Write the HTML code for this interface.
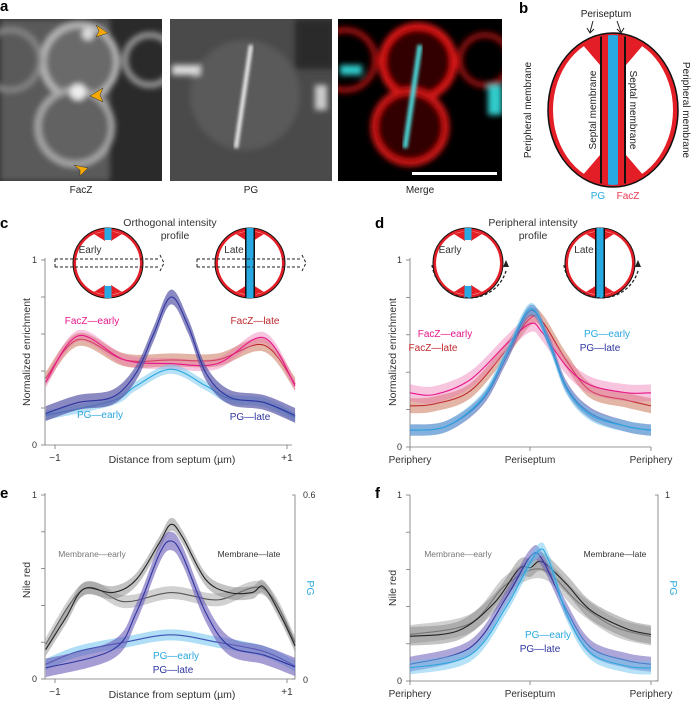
<!DOCTYPE html>
<html><head><meta charset="utf-8"><style>
html,body{margin:0;padding:0;background:#fff;width:691px;height:703px;overflow:hidden}
svg{display:block;font-family:"Liberation Sans",sans-serif}
</style></head><body>
<svg id="fig" width="691" height="703" viewBox="0 0 691 703">
<defs>
<filter id="bl" x="-20%" y="-20%" width="140%" height="140%"><feGaussianBlur stdDeviation="3"/></filter>
<filter id="bl2" x="-20%" y="-20%" width="140%" height="140%"><feGaussianBlur stdDeviation="1.6"/></filter>
<clipPath id="c1"><rect x="0" y="19" width="162" height="162"/></clipPath>
<clipPath id="c2"><rect x="170" y="19" width="162" height="162"/></clipPath>
<clipPath id="c3"><rect x="338" y="19" width="164" height="162"/></clipPath>
<clipPath id="ell"><ellipse cx="613" cy="110" rx="62" ry="75"/></clipPath>
</defs>
<g>
<text x="0" y="11" font-size="15" font-weight="bold">a</text>
<g clip-path="url(#c1)">
<rect x="0" y="19" width="162" height="162" fill="#2a2a2a"/>
<g filter="url(#bl)">
<rect x="0" y="19" width="110" height="162" fill="#5a5a5a"/>
<circle cx="80" cy="62" r="37" fill="#6a6a6a" stroke="#bbb" stroke-width="6"/>
<circle cx="75" cy="127" r="37" fill="#626262" stroke="#aaa" stroke-width="6"/>
<circle cx="150" cy="60" r="25" fill="none" stroke="#999" stroke-width="6"/>
<circle cx="10" cy="60" r="30" fill="none" stroke="#888" stroke-width="5"/>
<circle cx="78" cy="92" r="8" fill="#eee"/>
<circle cx="88" cy="34" r="6" fill="#ddd"/>
</g>
<path d="M96 25 L108 33 L96 37 L99 31Z" fill="#f5a800" stroke="#333" stroke-width="0.5"/>
<path d="M103 88 L90 96 L103 102 L100 95Z" fill="#f5a800" stroke="#333" stroke-width="0.5"/>
<path d="M74 165 L88 168 L80 176 L80 170Z" fill="#f5a800" stroke="#333" stroke-width="0.5"/>
</g>
<g clip-path="url(#c2)">
<rect x="170" y="19" width="162" height="162" fill="#4a4a4a"/>
<g filter="url(#bl)">
<circle cx="245" cy="95" r="55" fill="#5a5a5a"/>
<rect x="295" y="19" width="40" height="50" fill="#2a2a2a"/>
<rect x="172" y="65" width="28" height="10" fill="#ddd"/>
<rect x="315" y="85" width="12" height="25" fill="#ccc"/>
</g>
<g filter="url(#bl2)"><path d="M251 45 L236 148" stroke="#f4f4f4" stroke-width="4"/></g>
</g>
<g clip-path="url(#c3)">
<rect x="338" y="19" width="164" height="162" fill="#000"/>
<g filter="url(#bl)">
<circle cx="418" cy="62" r="36" fill="#300" stroke="#e01818" stroke-width="7"/>
<circle cx="410" cy="127" r="36" fill="#300" stroke="#d01515" stroke-width="7"/>
<circle cx="345" cy="60" r="30" fill="none" stroke="#a01010" stroke-width="6"/>
<circle cx="485" cy="60" r="25" fill="none" stroke="#901010" stroke-width="6"/>
<rect x="340" y="65" width="22" height="10" fill="#3cc"/>
<rect x="488" y="85" width="14" height="30" fill="#3cc"/>
</g>
<g filter="url(#bl2)"><path d="M420 45 L405 148" stroke="#4dd8d8" stroke-width="5"/></g>
<rect x="412" y="172" width="85" height="3" fill="#fff"/>
</g>
<g font-size="10" fill="#222" text-anchor="middle">
<text x="81" y="193">FacZ</text><text x="251" y="193">PG</text><text x="420" y="193">Merge</text>
</g>
</g>
<g>
<text x="519" y="13" font-size="15" font-weight="bold">b</text>
<text x="606" y="17" font-size="10" text-anchor="middle" fill="#222">Periseptum</text>
<path d="M593 21 L590 32 M587 28 L590 33 L594 29 M617 21 L621 32 M617 29 L621 33 L624 28" stroke="#222" stroke-width="1" fill="none"/>
<ellipse cx="613" cy="110" rx="65" ry="77" fill="#e41e26" stroke="#111" stroke-width="1.5"/>
<ellipse cx="613" cy="110" rx="60" ry="73" fill="#fff"/>
<g clip-path="url(#ell)">
<path d="M600 30 L570 30 L600 65Z M626 30 L656 30 L626 65Z M600 190 L570 190 L600 155Z M626 190 L656 190 L626 155Z" fill="#e41e26"/>
</g>
<g clip-path="url(#ell)">
<rect x="600" y="30" width="26" height="160" fill="#111"/>
<rect x="602" y="30" width="22" height="160" fill="#e41e26"/>
<rect x="608" y="30" width="10" height="160" fill="#29a9e1"/>
</g>
<text transform="translate(596,110) rotate(-90)" font-size="10" text-anchor="middle" fill="#222">Septal membrane</text>
<text transform="translate(630,110) rotate(90)" font-size="10" text-anchor="middle" fill="#222">Septal membrane</text>
<text transform="translate(531,110) rotate(-90)" font-size="10" text-anchor="middle" fill="#222">Peripheral membrane</text>
<text transform="translate(683,110) rotate(90)" font-size="10" text-anchor="middle" fill="#222">Peripheral membrane</text>
<text x="598" y="199" font-size="10" text-anchor="middle" fill="#29a9e1">PG</text>
<text x="628" y="199" font-size="10" text-anchor="middle" fill="#e8384f">FacZ</text>
</g>
<g id="plots"></g>
</svg>
<script>
// ---- data (x in µm or normalized position; y in axis units) ----
const cX = [-1.08,-0.8,-0.4,0,0.4,0.8,1.07];
const cFacZEarly = [0.34,0.59,0.46,0.44,0.44,0.58,0.32];
const cFacZLate = [0.36,0.57,0.46,0.46,0.46,0.54,0.33];
const cPGlateX = [-1.08,-0.8,-0.5,-0.3,-0.15,0,0.15,0.3,0.5,0.8,1.07];
const cPGLate = [0.17,0.23,0.26,0.39,0.60,0.80,0.64,0.39,0.26,0.23,0.16];
const cPGearlyX = [-1.08,-0.5,-0.3,0,0.3,0.5,0.8,1.07];
const cPGEarly = [0.16,0.24,0.32,0.41,0.32,0.25,0.23,0.15];
const dFacZX = [-1,-0.8,-0.5,-0.2,0,0.1,0.3,0.5,0.8,1];
const dFacZEarly = [0.29,0.28,0.36,0.55,0.66,0.61,0.43,0.33,0.29,0.29];
const dFacZLate = [0.22,0.23,0.30,0.52,0.69,0.67,0.46,0.30,0.25,0.22];
const dPGX = [-1,-0.7,-0.4,-0.2,0,0.15,0.3,0.5,0.8,1];
const dPGLate = [0.09,0.11,0.25,0.48,0.73,0.57,0.32,0.18,0.11,0.09];
const dPGEarly = [0.09,0.11,0.26,0.50,0.74,0.56,0.31,0.17,0.11,0.09];
const eMemX = [-1.08,-0.9,-0.75,-0.5,-0.3,-0.1,0,0.1,0.3,0.5,0.7,0.8,0.95,1.07];
const eMemLate = [0.16,0.34,0.49,0.47,0.54,0.74,0.84,0.77,0.54,0.47,0.47,0.50,0.34,0.18];
const eMemEarlyX = [-1.08,-0.75,-0.4,0,0.4,0.8,1.07];
const eMemEarly = [0.19,0.49,0.42,0.47,0.43,0.49,0.20];
const ePGLateX = [-1.08,-0.5,-0.3,-0.1,0,0.1,0.3,0.5,0.8,1.07];
const ePGLate = [0.06,0.16,0.36,0.68,0.75,0.67,0.36,0.18,0.13,0.065];
const ePGEarlyX = [-1.08,-0.8,-0.4,0,0.4,0.8,1.07];
const ePGEarly = [0.08,0.15,0.20,0.24,0.20,0.15,0.07];
const fMemLateX = [-1,-0.6,-0.3,-0.1,0,0.1,0.3,0.5,0.8,1];
const fMemLate = [0.24,0.27,0.42,0.60,0.61,0.64,0.52,0.38,0.28,0.25];
const fMemEarlyX = [-1,-0.5,-0.2,0.1,0.4,0.7,1];
const fMemEarly = [0.25,0.31,0.52,0.60,0.42,0.29,0.24];
const fPGLateX = [-1,-0.5,-0.2,0,0.1,0.3,0.5,0.8,1];
const fPGLate = [0.09,0.18,0.45,0.67,0.65,0.38,0.18,0.11,0.09];
const fPGEarlyX = [-1,-0.5,-0.2,0.05,0.15,0.3,0.5,0.8,1];
const fPGEarly = [0.07,0.14,0.40,0.69,0.65,0.36,0.15,0.08,0.07];
const yTicks = [0,0.2,0.4,0.6,0.8,1];

const NS='http://www.w3.org/2000/svg';
const root=document.getElementById('plots');
function mk(tag,attrs,parent){const e=document.createElementNS(NS,tag);for(const k in attrs)e.setAttribute(k,attrs[k]);(parent||root).appendChild(e);return e;}
function curve(pts){let d='M'+pts[0][0]+' '+pts[0][1];for(let i=0;i<pts.length-1;i++){const p0=pts[i-1]||pts[i],p1=pts[i],p2=pts[i+1],p3=pts[i+2]||p2;const c1=[p1[0]+(p2[0]-p0[0])/6,p1[1]+(p2[1]-p0[1])/6],c2=[p2[0]-(p3[0]-p1[0])/6,p2[1]-(p3[1]-p1[1])/6];d+=' C'+c1[0]+' '+c1[1]+' '+c2[0]+' '+c2[1]+' '+p2[0]+' '+p2[1];}return d;}
function series(g,sx,sy,xs,ys,col,bandCol,hw,op){
  const up=xs.map((x,i)=>[sx(x),sy(ys[i]+hw)]),lo=xs.map((x,i)=>[sx(x),sy(ys[i]-hw)]).reverse();
  const b=mk('path',{d:curve(up)+' L'+lo[0][0]+' '+lo[0][1]+curve(lo).slice(curve(lo).indexOf(' ')).replace(/^[^C]*/,' ')+' Z',fill:bandCol,'fill-opacity':op},g);
  
  
  const l=mk('path',{d:curve(xs.map((x,i)=>[sx(x),sy(ys[i])])),fill:'none',stroke:col,'stroke-width':1.1},g);
  
  
}
function axes(g,x0,x1,yTop,yBot,sy,tickLabels,xt,right){
  mk('path',{d:`M${x0} ${yTop} V${yBot} H${x1}`,stroke:'#777',fill:'none','stroke-width':0.8},g);
  yTicks.forEach(v=>{mk('line',{x1:x0-4,x2:x0,y1:sy(v),y2:sy(v),stroke:'#777','stroke-width':0.8},g);});
  [[0,'0'],[1,'1']].forEach(([v,t])=>{const e=mk('text',{x:x0-8,y:sy(v)+3,'font-size':9,'text-anchor':'end',fill:'#333'},g);e.textContent=t;});
  xt.forEach(([px,t])=>{mk('line',{x1:px,x2:px,y1:yBot,y2:yBot+4,stroke:'#777','stroke-width':0.8},g);const e=mk('text',{x:px,y:yBot+16,'font-size':10,'text-anchor':'middle',fill:'#333'},g);e.textContent=t;});
}
function txt(g,x,y,t,col,fs,anchor,rot){const e=mk('text',{x:x,y:y,'font-size':fs||10,fill:col||'#333','text-anchor':anchor||'middle'},g);if(rot)e.setAttribute('transform',`rotate(${rot} ${x} ${y})`);e.textContent=t;return e;}
function cell(g,cx,cy,late,mode){
  mk('circle',{cx,cy,r:35,fill:'#e41e26',stroke:'#111','stroke-width':1},g);
  mk('circle',{cx,cy,r:32,fill:'#fff'},g);
  mk('path',{d:`M${cx-3} ${cy-32} L${cx-14} ${cy-29} L${cx-3} ${cy-22}Z M${cx+3} ${cy-32} L${cx+14} ${cy-29} L${cx+3} ${cy-22}Z M${cx-3} ${cy+32} L${cx-14} ${cy+29} L${cx-3} ${cy+22}Z M${cx+3} ${cy+32} L${cx+14} ${cy+29} L${cx+3} ${cy+22}Z`,fill:'#e41e26'},g);
  if(late){mk('rect',{x:cx-5,y:cy-35,width:10,height:70,fill:'#111'},g);mk('rect',{x:cx-3.5,y:cy-35,width:7,height:70,fill:'#29a9e1'},g);}
  else{mk('rect',{x:cx-3.5,y:cy-35,width:7,height:12,fill:'#29a9e1'},g);mk('rect',{x:cx-3.5,y:cy+23,width:7,height:12,fill:'#29a9e1'},g);}
  txt(g,late?cx-16:cx-18,cy-10,late?'Late':'Early','#333',10);
  if(mode==='orth'){mk('path',{d:`M${cx-53} ${cy-4} H${cx+52} M${cx-53} ${cy+4} H${cx+52} M${cx-53} ${cy-4} V${cy+4} M${cx+52} ${cy-8} L${cx+56} ${cy} L${cx+52} ${cy+8}`,stroke:'#222',fill:'none','stroke-width':1,'stroke-dasharray':'3 2'},g);}
  else{mk('path',{d:`M${cx-36} ${cy+2} A38 38 0 0 0 ${cx+38} ${cy+8}`,stroke:'#222',fill:'none','stroke-width':1.3,'stroke-dasharray':'3 2'},g);mk('path',{d:`M${cx+35} ${cy+4} L${cx+38} ${cy-3} L${cx+41} ${cy+4}Z`,fill:'#222'},g);}
}
const PINK='#e8168b',RED='#c0282e',DB='#2f35a0',LB='#2aa7e0';
// panel c
(function(){const g=mk('g',{});
 const sx=x=>171+x*116,sy=v=>445-v*185;
 txt(g,0,228,'c','#000',15,'start').setAttribute('font-weight','bold');
 axes(g,45,292,258,445,sy,null,[[55,'−1'],[287,'+1']]);
 txt(g,172,463,'Distance from septum (µm)','#333',10.5);
 txt(g,30,352,'Normalized enrichment','#333',10.5,'middle',-90);
 series(g,sx,sy,cX,cFacZLate,RED,'#c25a3a',0.035,0.45);
 series(g,sx,sy,cX,cFacZEarly,PINK,'#ee6fae',0.03,0.4);
 series(g,sx,sy,cPGearlyX,cPGEarly,LB,'#6ec3ee',0.025,0.5);
 series(g,sx,sy,cPGlateX,cPGLate,DB,'#5a57a8',0.04,0.7);
 cell(g,108,263,false,'orth');cell(g,250,263,true,'orth');
 txt(g,170,226,'Orthogonal intensity','#333',10.5);txt(g,175,239,'profile','#333',10.5);
 txt(g,92,324,'FacZ—early',PINK,10);txt(g,255,324,'FacZ—late',RED,10);
 txt(g,100,418,'PG—early',LB,10);txt(g,250,420,'PG—late',DB,10);
})();
// panel d
(function(){const g=mk('g',{});
 const sx=x=>530.5+x*120.5,sy=v=>447-v*187;
 txt(g,375,228,'d','#000',15,'start').setAttribute('font-weight','bold');
 axes(g,410,651,258,447,sy,null,[[410,'Periphery'],[530,'Periseptum'],[651,'Periphery']]);
 txt(g,396,352,'Normalized enrichment','#333',10.5,'middle',-90);
 series(g,sx,sy,dFacZX,dFacZLate,RED,'#c25a3a',0.04,0.45);
 series(g,sx,sy,dFacZX,dFacZEarly,PINK,'#ee6fae',0.045,0.4);
 series(g,sx,sy,dPGX,dPGLate,DB,'#5a57a8',0.03,0.6);
 series(g,sx,sy,dPGX,dPGEarly,LB,'#6ec3ee',0.03,0.5);
 cell(g,468,263,false,'peri');cell(g,600,263,true,'peri');
 txt(g,533,226,'Peripheral intensity','#333',10.5);txt(g,533,239,'profile','#333',10.5);
 txt(g,445,337,'FacZ—early',PINK,10);txt(g,433,351,'FacZ—late',RED,10);
 txt(g,607,337,'PG—early',LB,10);txt(g,600,351,'PG—late',DB,10);
})();
// panel e
(function(){const g=mk('g',{});
 const sx=x=>171+x*116,sy=v=>679-v*184;
 txt(g,0,498,'e','#000',15,'start').setAttribute('font-weight','bold');
 axes(g,45,295,493,679,sy,null,[[55,'−1'],[287,'+1']]);
 mk('path',{d:'M292 495 H295 V679 H292',stroke:'#777',fill:'none','stroke-width':0.8},g);
 txt(g,303,498,'0.6','#333',9,'start');txt(g,303,683,'0','#333',9,'start');
 txt(g,172,698,'Distance from septum (µm)','#333',10.5);
 txt(g,30,580,'Nile red','#333',10.5,'middle',-90);
 txt(g,307,588,'PG',LB,10.5,'middle',90);
 series(g,sx,sy,eMemEarlyX,eMemEarly,'#555','#999',0.035,0.45);
 series(g,sx,sy,eMemX,eMemLate,'#222','#888',0.035,0.5);
 series(g,sx,sy,ePGEarlyX,ePGEarly,'#3c4fb0','#6ec3ee',0.03,0.55);
 series(g,sx,sy,ePGLateX,ePGLate,DB,'#6a5cb8',0.05,0.6);
 txt(g,92,557,'Membrane—early','#777',8.5);txt(g,249,557,'Membrane—late','#333',8.5);
 txt(g,176,659,'PG—early',LB,10);txt(g,173,673,'PG—late',DB,10);
})();
// panel f
(function(){const g=mk('g',{});
 const sx=x=>530.5+x*120.5,sy=v=>681-v*186;
 txt(g,375,498,'f','#000',15,'start').setAttribute('font-weight','bold');
 axes(g,410,658,495,681,sy,null,[[410,'Periphery'],[530,'Periseptum'],[651,'Periphery']]);
 mk('path',{d:'M655 495 H658 V681 H655',stroke:'#777',fill:'none','stroke-width':0.8},g);
 txt(g,665,498,'1','#333',9,'start');
 txt(g,396,588,'Nile red','#333',10.5,'middle',-90);
 txt(g,670,588,'PG',LB,10.5,'middle',90);
 series(g,sx,sy,fMemEarlyX,fMemEarly,'#666','#999',0.05,0.45);
 series(g,sx,sy,fMemLateX,fMemLate,'#222','#888',0.05,0.5);
 series(g,sx,sy,fPGLateX,fPGLate,DB,'#6a5cb8',0.04,0.55);
 series(g,sx,sy,fPGEarlyX,fPGEarly,LB,'#6ec3ee',0.035,0.5);
 txt(g,458,557,'Membrane—early','#777',8.5);txt(g,615,557,'Membrane—late','#333',8.5);
 txt(g,548,638,'PG—early',LB,10);txt(g,540,652,'PG—late',DB,10);
})();
</script>
</body></html>
